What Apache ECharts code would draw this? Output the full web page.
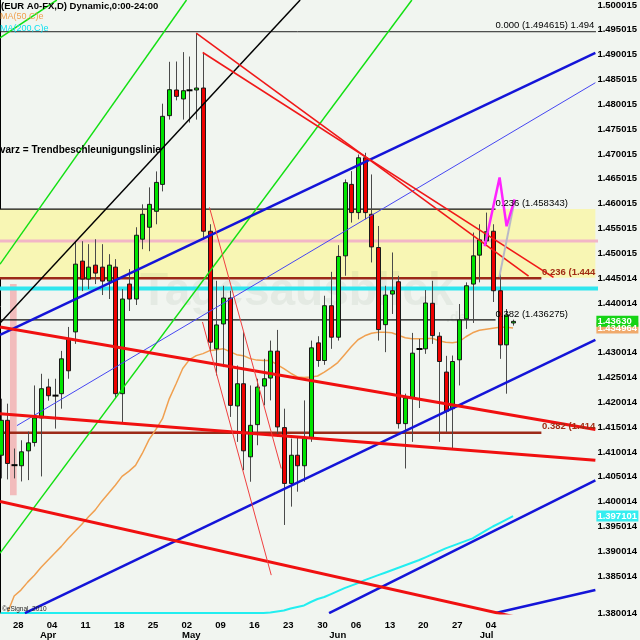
<!DOCTYPE html>
<html>
<head>
<meta charset="utf-8">
<script src="https://cdn.jsdelivr.net/npm/echarts@6.0.0/dist/echarts.min.js"></script>
<style>
html,body{margin:0;padding:0;background:#f1f5f0;}
#chart{width:640px;height:640px;}
</style>
</head>
<body>
<div id="chart"></div>
<script>
// ---------------- DATA ----------------
const opens = [
1.40935,1.41638,1.4074,1.40723,1.41023,1.4119,1.41686,1.42308,1.4214,1.42174,
1.43277,1.43418,1.44843,1.44481,1.44762,1.44722,1.44441,1.44722,1.42174,1.44381,
1.4408,1.45284,1.45525,1.45846,1.46388,1.47772,1.48288,1.48108,1.4828,1.48288,
1.48328,1.45445,1.43077,1.43578,1.441,1.41927,1.42374,1.40903,1.41551,1.42328,
1.42489,1.4303,1.41491,1.40367,1.40935,1.40723,1.41284,1.43197,1.42842,1.43945,
1.43311,1.44949,1.46388,1.4582,1.46924,1.45786,1.45117,1.43564,1.4418,1.44427,
1.41571,1.42087,1.43077,1.43077,1.43994,1.43331,1.42609,1.41872,1.42856,1.43679,
1.44381,1.44963,1.4525,1.45445,1.44247,1.43157,1.43598];
const closes = [
1.41638,1.40769,1.4073,1.41004,1.41184,1.41686,1.42274,1.42133,1.4213,1.42876,
1.42635,1.44782,1.44481,1.44722,1.44602,1.44441,1.44762,1.42174,1.4408,1.4408,
1.45364,1.45786,1.45986,1.46428,1.47758,1.48294,1.4816,1.48274,1.48285,1.48328,
1.45445,1.43211,1.43558,1.441,1.41939,1.42374,1.41024,1.41537,1.42308,1.42475,
1.4303,1.41505,1.40367,1.40935,1.40723,1.4127,1.43097,1.42842,1.43945,1.43311,
1.44937,1.46422,1.4582,1.46924,1.4582,1.45129,1.43464,1.4416,1.44247,1.41571,
1.42087,1.4299,1.4307,1.44,1.43343,1.42822,1.41818,1.42822,1.43659,1.44347,
1.44949,1.4527,1.45435,1.44247,1.43157,1.43759,1.4363];
const lows = [
1.40468,1.40448,1.40468,1.40407,1.40434,1.4111,1.40508,1.42033,1.41471,1.41872,
1.42475,1.43177,1.4424,1.44281,1.44381,1.4416,1.4408,1.42073,1.41571,1.43839,
1.4396,1.45083,1.45043,1.45585,1.46247,1.47692,1.4808,1.47692,1.47632,1.47692,
1.45284,1.43036,1.42541,1.42709,1.41706,1.41204,1.40634,1.40401,1.41136,1.41939,
1.42039,1.41305,1.39531,1.399,1.40201,1.40401,1.41204,1.42715,1.42755,1.43077,
1.43243,1.44548,1.45619,1.45685,1.45685,1.44816,1.43243,1.4301,1.43779,1.41471,
1.40668,1.41204,1.41886,1.42976,1.43177,1.41204,1.41405,1.4107,1.4234,1.43478,
1.43598,1.44415,1.45184,1.4402,1.42876,1.42174,1.43544];
const highs = [
1.42073,1.41973,1.4107,1.41236,1.41411,1.4234,1.42575,1.42475,1.42475,1.43036,
1.43518,1.45244,1.45244,1.45184,1.45284,1.45184,1.44983,1.44883,1.44281,1.44682,
1.45525,1.45986,1.46328,1.46649,1.48013,1.48856,1.48862,1.49051,1.48962,1.49432,
1.49043,1.45585,1.44447,1.44347,1.44247,1.42741,1.43412,1.4234,1.42475,1.42876,
1.43243,1.43458,1.41872,1.4127,1.41284,1.42039,1.43243,1.43331,1.44146,1.44628,
1.45164,1.46488,1.46655,1.4699,1.47024,1.46588,1.45551,1.44347,1.45017,1.44548,
1.42174,1.43398,1.43277,1.4426,1.44447,1.43412,1.42936,1.42942,1.4398,1.44415,
1.45418,1.45585,1.4582,1.45585,1.44682,1.43879,1.43665];
const ma50 = [
1.3776,1.3776,1.3810,1.3822,1.3838,1.3852,1.3868,1.3882,1.3896,1.3910,
1.3926,1.3940,1.3954,1.3969,1.3983,1.4001,1.4017,1.4033,1.4051,1.4061,
1.4073,1.4097,1.4125,1.4145,1.4167,1.4207,1.4237,1.4268,1.4286,1.4294,
1.4298,1.4304,1.4306,1.4308,1.4302,1.4296,1.4294,1.4288,1.4285,1.4284,
1.4284,1.4276,1.4268,1.4259,1.4251,1.4250,1.4251,1.4253,1.4261,1.4270,
1.4280,1.4296,1.4312,1.4326,1.4334,1.4339,1.4341,1.4341,1.4340,1.4335,
1.4330,1.4328,1.4328,1.4328,1.4329,1.4324,1.4321,1.4320,1.4322,1.4332,
1.4340,1.4345,1.4347,1.4349,1.4351,1.4351,1.434964];
const ma200 = [
1.3776,1.3776,1.3776,1.3776,1.3776,1.3776,1.3776,1.3776,1.3776,1.3776,
1.3776,1.3776,1.3776,1.3776,1.3776,1.3776,1.3776,1.3776,1.3776,1.3776,
1.3776,1.3776,1.3776,1.3776,1.3776,1.3776,1.3776,1.3776,1.3776,1.3776,
1.3776,1.3776,1.3776,1.3776,1.3776,1.3776,1.3776,1.3776,1.3776,1.3776,
1.37769,1.3779,1.3781,1.3785,1.3788,1.3791,1.3798,1.3804,1.3808,1.3814,
1.3820,1.3826,1.3831,1.3836,1.3842,1.3847,1.3852,1.3857,1.3862,1.3867,
1.3872,1.3877,1.3882,1.3888,1.3894,1.3900,1.3906,1.3911,1.3916,1.3921,
1.3926,1.3934,1.3942,1.3950,1.3957,1.3964,1.397101];

const weekLabels = ['28','04','11','18','25','02','09','16','23','30','06','13','20','27','04'];
const weekPos = [2.62,7.62,12.57,17.59,22.6,27.6,32.62,37.63,42.65,47.72,52.72,57.74,62.69,67.71,72.71];
const monthLabels = ['Apr','May','Jun','Jul'];
const monthPos = [7.03,28.27,50.0,72.06];
const yTickValues = [1.385,1.39,1.395,1.40,1.405,1.41,1.415,1.42,1.425,1.43,1.435,1.44,1.445,
  1.45,1.455,1.46,1.465,1.47,1.475,1.48,1.485,1.49,1.495,1.50];
const yTickLabels = ['1.385014','1.390014','1.395014','1.400014','1.405014','1.410014','1.415014',
  '1.420014','1.425014','1.430014','1.435014','1.440014','1.445014','1.450015','1.455015','1.460015',
  '1.465015','1.470015','1.475015','1.480015','1.485015','1.490015','1.495015','1.500015'];
const yBottomLabel = '1.380014';

// horizontal levels
const fibLevels = [1.494615, 1.4589, 1.4450, 1.4366, 1.4139];
const fibStart = [-0.2, -0.2, -0.2, -0.2, -0.2];
const fibEnd = [88.3, 73.4, 80.2, 73.4, 80.2];
const fibTexts = ['0.000 (1.494615)', '0.236 (1.458343)', '0.236 (1.444', '0.382 (1.436275)', '0.382 (1.414'];
const fibTextAt = [73.4, 73.4, 80.3, 73.4, 80.3];
const pinkLevel = 1.4525;
const cyanLevel = 1.44291;
const yellowBand = [1.4451, 1.4589];
const pinkBar = [[1.38, 1.4438], [2.37, 1.4013]];

// trend lines: [candle index, price]
const blackLine = [[-0.1, 1.43598], [44.42, 1.50100]];
const greenLine1 = [[-0.1, 1.38963], [60.99, 1.50100]];
const greenLine2 = [[-0.1, 1.44782], [27.56, 1.50100]];
const greenLine3 = [[-0.1, 1.49338], [8.33, 1.50100]];
const blueThick1 = [[-0.1, 1.43357], [88.21, 1.49037]];
const blueThin = [[2.41, 1.41531], [88.21, 1.48435]];
const blueThick2 = [[3.59, 1.37758], [88.21, 1.43257]];
const blueThick3 = [[48.71, 1.37758], [88.21, 1.40428]];
const blueThick4 = [[73.42, 1.37758], [88.21, 1.3822]];
const redThick1 = [[-0.1, 1.43518], [88.21, 1.41451]];
const redThick2 = [[-0.1, 1.41772], [88.21, 1.40835]];
const redThick3 = [[-0.1, 1.40006], [88.21, 1.37317]];
const redFanA = [[29.0, 1.49432], [78.3, 1.44541]];
const redFanB = [[29.97, 1.49043], [82.0, 1.44515]];
const redThin1 = [[30.96, 1.45926], [41.61, 1.40668]];
const redThin2 = [[29.93, 1.43618], [40.13, 1.38521]];
const magentaPath = [[71.79, 1.45144], [74.0, 1.46528], [75.04, 1.45545], [76.23, 1.46087]];
const grayPath = [[73.96, 1.44521], [76.23, 1.46067]];

const lastClose = 1.4363;
const lastMa50 = 1.434964;
const lastMa200 = 1.397101;

// ---------------- CHART ----------------
const X_MIN = -0.104, X_MAX = 88.21;
const Y_MIN = 1.377584, Y_MAX = 1.501003;
const FONT = "'Liberation Sans', Arial, sans-serif";

const candleRows = opens.map((o, i) => [i, o, closes[i], lows[i], highs[i]]);
const idx = a => a.map((v, i) => [i, v]);

function renderCandle(params, api) {
  const x = api.value(0), o = api.value(1), c = api.value(2), l = api.value(3), h = api.value(4);
  const pO = api.coord([x, o]), pC = api.coord([x, c]);
  const pL = api.coord([x, l]), pH = api.coord([x, h]);
  const xc = Math.round(pO[0]) + 0.5;
  const top = Math.min(pO[1], pC[1]), bot = Math.max(pO[1], pC[1]);
  const kids = [{
    type: 'line', shape: {x1: xc, y1: pH[1], x2: xc, y2: pL[1]},
    style: {stroke: '#4a4a4a', lineWidth: 1}
  }];
  if (bot - top < 1.2) {
    kids.push({type: 'line', shape: {x1: xc - 3, y1: (top + bot) / 2, x2: xc + 3, y2: (top + bot) / 2},
      style: {stroke: '#000', lineWidth: 2}});
  } else {
    kids.push({type: 'rect', shape: {x: xc - 2, y: top, width: 4, height: bot - top},
      style: {fill: c >= o ? '#00e400' : '#ee0000', stroke: '#1a1a1a', lineWidth: 1}});
  }
  return {type: 'group', children: kids};
}

function lineSeries(data, color, width, z) {
  return {type: 'line', data: data, symbol: 'none', silent: true, clip: true, z: z || 5,
    lineStyle: {color: color, width: width}, animation: false};
}

const series = [];
// bands
series.push({
  type: 'line', data: [], z: 1, silent: true,
  markArea: {silent: true, data: [
    [{yAxis: yellowBand[1], itemStyle: {color: '#f8f6b4'}}, {yAxis: yellowBand[0]}],
    [{coord: pinkBar[0], itemStyle: {color: '#f2bcbc'}}, {coord: pinkBar[1]}]
  ]}
});
// horizontal levels
series.push(lineSeries([[X_MIN - 1, pinkLevel], [X_MAX + 1, pinkLevel]], '#f2b6c6', 3, 2));
series.push(lineSeries([[X_MIN - 1, cyanLevel], [X_MAX + 1, cyanLevel]], '#2ee6ee', 4, 2));
const fibColors = ['#202020', '#111111', '#9c2a18', '#111111', '#9c2a18'];
const fibWidths = [1, 1.2, 2.5, 1.2, 2.5];
fibLevels.forEach((lv, k) => {
  series.push(lineSeries([[fibStart[k], lv], [fibEnd[k], lv]], fibColors[k], fibWidths[k], 2));
});
// moving averages
series.push(lineSeries(idx(ma50), '#f0a050', 1.5, 3));
series.push(lineSeries(idx(ma200), '#22eef0', 2, 3));
// trend lines
series.push(lineSeries(blackLine, '#000000', 1.5, 5));
series.push(lineSeries(greenLine1, '#12e012', 1.5, 5));
series.push(lineSeries(greenLine2, '#12e012', 1.5, 5));
series.push(lineSeries(greenLine3, '#12e012', 1.5, 5));
series.push(lineSeries(blueThick1, '#1414d8', 2.5, 5));
series.push(lineSeries(blueThin, '#4646f2', 1, 5));
series.push(lineSeries(blueThick2, '#1414d8', 2.5, 5));
series.push(lineSeries(blueThick3, '#1414d8', 2.5, 5));
series.push(lineSeries(blueThick4, '#1414d8', 2.5, 5));
series.push(lineSeries(redThick1, '#f01010', 3, 5));
series.push(lineSeries(redThick2, '#f01010', 3, 5));
series.push(lineSeries(redThick3, '#f01010', 3, 5));
series.push(lineSeries(redFanA, '#f01818', 1.6, 5));
series.push(lineSeries(redFanB, '#f01818', 1.6, 5));
series.push(lineSeries(redThin1, '#f04040', 1, 5));
series.push(lineSeries(redThin2, '#f04040', 1, 5));
// candles
series.push({type: 'custom', data: candleRows, renderItem: renderCandle, clip: true, z: 4,
  encode: {x: 0, y: [1, 2, 3, 4]}, silent: true, animation: false});
// projections
series.push(lineSeries(grayPath, '#b8b8c8', 2, 6));
series.push(lineSeries(magentaPath, '#ff22ff', 2.5, 7));

const lblBase = {fontFamily: FONT, fontSize: 9.5, fontWeight: 'bold', color: '#000'};
const near = (arr, v) => arr.findIndex(p => Math.abs(p - v) < 1e-6);

const option = {
  backgroundColor: '#f1f5f0',
  animation: false,
  grid: {left: 0, right: 43, top: 0, bottom: 25, containLabel: false},
  xAxis: [
    {type: 'value', min: X_MIN, max: X_MAX, axisLine: {show: false}, axisTick: {show: false},
     splitLine: {show: false},
     axisLabel: Object.assign({customValues: weekPos, margin: 7,
       formatter: v => { const k = near(weekPos, v); return k >= 0 ? weekLabels[k] : ''; }}, lblBase)},
    {type: 'value', min: X_MIN, max: X_MAX, position: 'bottom', offset: 10,
     axisLine: {show: false}, axisTick: {show: false}, splitLine: {show: false},
     axisLabel: Object.assign({customValues: monthPos, margin: 7,
       formatter: v => { const k = near(monthPos, v); return k >= 0 ? monthLabels[k] : ''; }}, lblBase)}
  ],
  yAxis: {
    type: 'value', position: 'right', min: Y_MIN, max: Y_MAX,
    axisLine: {show: true, lineStyle: {color: '#000', width: 1}},
    axisTick: {show: false}, splitLine: {show: false},
    axisLabel: Object.assign({customValues: yTickValues.concat([Y_MIN + 1e-7]), margin: 2,
      formatter: v => {
        if (Math.abs(v - Y_MIN) < 1e-5) return yBottomLabel;
        const k = near(yTickValues, v); return k >= 0 ? yTickLabels[k] : '';
      }}, lblBase)
  },
  series: series
};

const chart = echarts.init(document.getElementById('chart'), null, {renderer: 'canvas'});
chart.setOption(option);

const toPx = (x, y) => chart.convertToPixel({xAxisIndex: 0, yAxisIndex: 0}, [x, y]);
const g = [];
// watermark
g.push({type: 'text', x: 140, y: 292, z: 1, silent: true,
  style: {text: 'Tagesausblick', fill: 'rgba(120,140,120,0.10)', font: 'bold 46px ' + FONT, verticalAlign: 'middle'}});
g.push({type: 'text', x: 446, y: 318, z: 1, silent: true,
  style: {text: '.de', fill: 'rgba(120,140,120,0.10)', font: 'bold 14px ' + FONT, verticalAlign: 'middle'}});
// header texts
g.push({type: 'text', x: 1, y: 1, z: 60, style: {text: '(EUR A0-FX,D) Dynamic,0:00-24:00', fill: '#000', font: 'bold 9.5px ' + FONT}});
g.push({type: 'text', x: 0, y: 12, z: 60, style: {text: 'MA(50,C)e', fill: '#f0a050', font: '9px ' + FONT}});
g.push({type: 'text', x: 0, y: 24, z: 60, style: {text: 'MA(200,C)e', fill: '#10e0f0', font: '9px ' + FONT}});
g.push({type: 'text', x: 0, y: 145, z: 60, style: {text: 'varz = Trendbeschleunigungslinie', fill: '#000', font: 'bold 10px ' + FONT}});
g.push({type: 'text', x: 2, y: 606, z: 60, style: {text: '\u00a9eSignal, 2010', fill: '#222', font: '6.5px ' + FONT}});
// fib labels
const fibTextColors = ['#000', '#000', '#a02c14', '#000', '#a02c14'];
const fibTextWeights = ['', '', 'bold ', '', 'bold '];
fibLevels.forEach((lv, k) => {
  const p = toPx(fibTextAt[k], lv);
  g.push({type: 'text', x: p[0], y: p[1] - 1, z: 60,
    style: {text: fibTexts[k], fill: fibTextColors[k], font: fibTextWeights[k] + '9.5px ' + FONT, verticalAlign: 'bottom'}});
});
const pTop = toPx(X_MAX, fibLevels[0]);
g.push({type: 'text', x: pTop[0] - 1, y: pTop[1] - 1, z: 60,
  style: {text: '1.494', fill: '#000', font: '9.5px ' + FONT, align: 'right', verticalAlign: 'bottom'}});
// price tags on the axis
const tags = [
  {v: lastMa50, t: '1.434964', bg: '#f0aa6c'},
  {v: lastClose, t: '1.43630', bg: '#14d414'},
  {v: lastMa200, t: '1.397101', bg: '#34eef0'}
];
tags.forEach(tg => {
  const p = toPx(X_MAX, tg.v);
  g.push({type: 'rect', z: 100, shape: {x: p[0] + 1, y: p[1] - 5.5, width: 42, height: 11}, style: {fill: tg.bg}});
  g.push({type: 'text', z: 101, x: p[0] + 2, y: p[1], style: {text: tg.t, fill: '#fff', font: 'bold 9.5px ' + FONT, verticalAlign: 'middle'}});
});
chart.setOption({graphic: {elements: g}});
</script>
</body>
</html>
